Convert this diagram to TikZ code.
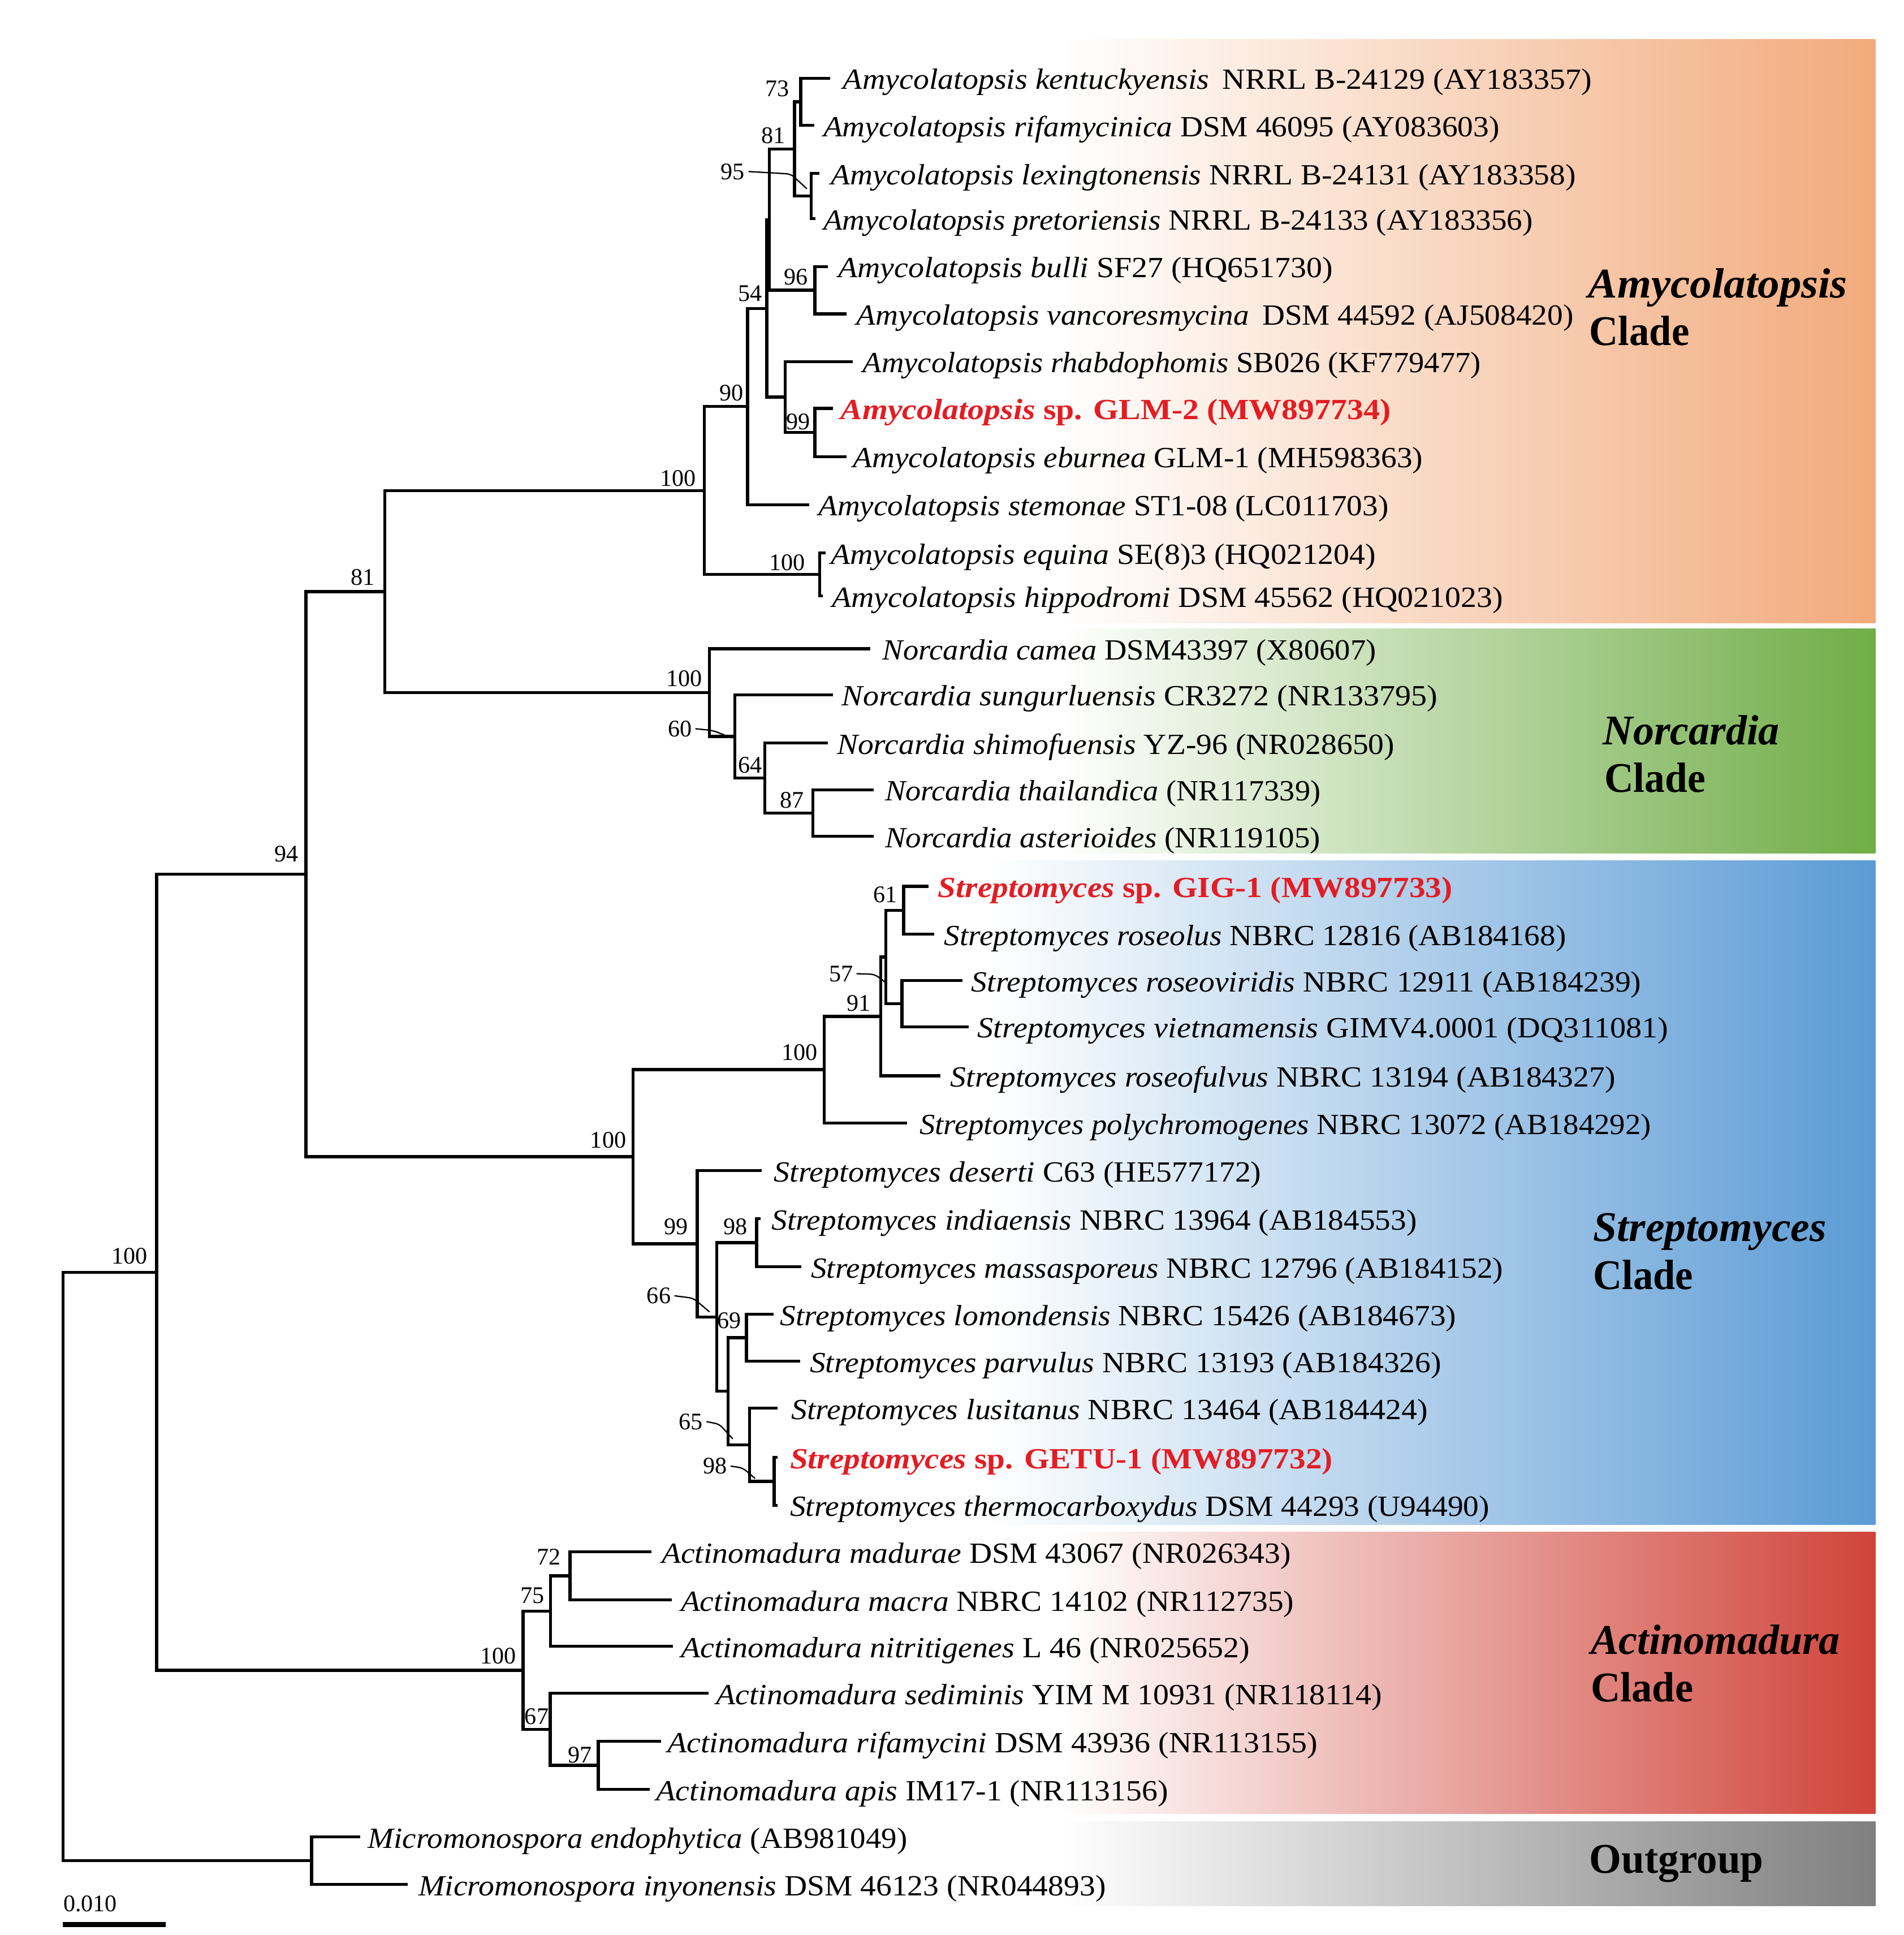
\documentclass[tikz,border=0pt]{standalone}
\usepackage{fontspec}
\setmainfont{Liberation Serif}
\usepackage{graphicx}
\newlength\pxu \setlength\pxu{0.02cm}
\newcommand\fitw[2]{\resizebox{#1\pxu}{\height}{#2}}
\definecolor{amyC}{HTML}{F2AA7C}
\definecolor{norC}{HTML}{70AD47}
\definecolor{strC}{HTML}{5B9BD5}
\definecolor{actC}{HTML}{D0443A}
\definecolor{outC}{HTML}{808080}
\definecolor{labred}{RGB}{228,28,35}
\tikzset{
  br/.style={line width=1.4pt, line join=miter},
  leaf/.style={anchor=base west, inner sep=0pt, font=\fontsize{13.5}{15}\selectfont},
  bs/.style={inner sep=0pt, font=\fontsize{11}{13}\selectfont},
  lead/.style={line width=0.6pt, rounded corners=2pt},
  cladel/.style={anchor=base west, inner sep=0pt, font=\fontsize{19.5}{22}\selectfont\bfseries},
}
\newcommand\Leaf[7]{%
  \coordinate (#1) at (#4,#3);
  \draw[br] (#2) |- (#1);
  \node[leaf] (#1t) at (#5,#3+9) {\fitw{#6}{#7}};}
\begin{document}
\begin{tikzpicture}[x=0.02cm,y=-0.02cm]
\useasboundingbox (0,0) rectangle (1543,1568);
% clade bands
\shade[left color=white, right color=amyC] (860,32) rectangle (1520,505);
\shade[left color=white, right color=norC] (860,509.6) rectangle (1520,691.5);
\shade[left color=white, right color=strC] (800,697.5) rectangle (1520,1235.5);
\shade[left color=white, right color=actC] (860,1241.5) rectangle (1520,1469.5);
\shade[left color=white, right color=outC] (860,1476) rectangle (1520,1544.5);
% internal nodes
\coordinate (root) at (51,1269.3);
\coordinate (R100) at (127,1030.9);
\coordinate (O) at (252.6,1507.7);
\coordinate (T94) at (248,708.4);
\coordinate (T81) at (312,479.4);
\coordinate (A100) at (571,397.5);
\coordinate (A90) at (606,329.4);
\coordinate (A54) at (621.5,249.9);
\coordinate (AR) at (623.5,178);
\coordinate (A81) at (644,120.7);
\coordinate (A73) at (649,82.5);
\coordinate (A95) at (657.5,158.9);
\coordinate (A96) at (660.4,235.2);
\coordinate (AY) at (636.5,321.75);
\coordinate (A99) at (660.4,350.5);
\coordinate (AE) at (664.5,465.5);
\coordinate (N100) at (575,561.2);
\coordinate (N60) at (595.5,596.7);
\coordinate (N64) at (620,630.4);
\coordinate (N87) at (659,658.8);
\coordinate (S100) at (513,937.3);
\coordinate (SI100) at (668,866.8);
\coordinate (S91) at (714,823.6);
\coordinate (S57) at (718,775.5);
\coordinate (S61) at (732.5,737.6);
\coordinate (SRV) at (731,813.3);
\coordinate (S99) at (565.2,1007.9);
\coordinate (S66) at (581,1067.2);
\coordinate (S98a) at (613.3,1007);
\coordinate (SZ) at (590,1127.4);
\coordinate (S69) at (605,1084);
\coordinate (S65) at (607.5,1170.7);
\coordinate (S98b) at (627.4,1200.4);
\coordinate (C100) at (424,1353.4);
\coordinate (C75) at (446.2,1305.5);
\coordinate (C72) at (462,1277);
\coordinate (C67) at (446,1401.3);
\coordinate (C97) at (485,1430.5);
% internal edges
\draw[br] (root) |- (R100);
\draw[br] (root) |- (O);
\draw[br] (R100) |- (T94);
\draw[br] (R100) |- (C100);
\draw[br] (T94) |- (T81);
\draw[br] (T94) |- (S100);
\draw[br] (T81) |- (A100);
\draw[br] (T81) |- (N100);
\draw[br] (A100) |- (A90);
\draw[br] (A100) |- (AE);
\draw[br] (A90) |- (A54);
\draw[br] (A54) |- (AR);
\draw[br] (A54) |- (AY);
\draw[br] (AR) |- (A81);
\draw[br] (AR) |- (A96);
\draw[br] (A81) |- (A73);
\draw[br] (A81) |- (A95);
\draw[br] (AY) |- (A99);
\draw[br] (N100) |- (N60);
\draw[br] (N60) |- (N64);
\draw[br] (N64) |- (N87);
\draw[br] (S100) |- (SI100);
\draw[br] (S100) |- (S99);
\draw[br] (SI100) |- (S91);
\draw[br] (S91) |- (S57);
\draw[br] (S57) |- (S61);
\draw[br] (S57) |- (SRV);
\draw[br] (S99) |- (S66);
\draw[br] (S66) |- (S98a);
\draw[br] (S66) |- (SZ);
\draw[br] (SZ) |- (S69);
\draw[br] (SZ) |- (S65);
\draw[br] (S65) |- (S98b);
\draw[br] (C100) |- (C75);
\draw[br] (C100) |- (C67);
\draw[br] (C75) |- (C72);
\draw[br] (C67) |- (C97);
% leaves
\Leaf{a1}{A73}{63.4}{673}{683}{607}{\textit{Amycolatopsis kentuckyensis}\, NRRL B-24129 (AY183357)}
\Leaf{a2}{A73}{101.6}{660}{667}{548}{\textit{Amycolatopsis rifamycinica} DSM 46095 (AY083603)}
\Leaf{a3}{A95}{140.6}{664}{673}{604}{\textit{Amycolatopsis lexingtonensis} NRRL B-24131 (AY183358)}
\Leaf{a4}{A95}{177.2}{661}{667}{575}{\textit{Amycolatopsis pretoriensis} NRRL B-24133 (AY183356)}
\Leaf{a5}{A96}{216}{671}{679}{401}{\textit{Amycolatopsis bulli} SF27 (HQ651730)}
\Leaf{a6}{A96}{254.4}{686}{694}{581}{\textit{Amycolatopsis vancoresmycina}\, DSM 44592 (AJ508420)}
\Leaf{a7}{AY}{293}{691}{699}{501}{\textit{Amycolatopsis rhabdophomis} SB026 (KF779477)}
\Leaf{a8}{A99}{331}{675}{681}{446}{\color{labred}\bfseries\textit{Amycolatopsis} sp. GLM-2 (MW897734)}
\Leaf{a9}{A99}{370}{686}{691}{462}{\textit{Amycolatopsis eburnea} GLM-1 (MH598363)}
\Leaf{a10}{A90}{409}{656}{663}{462}{\textit{Amycolatopsis stemonae} ST1-08 (LC011703)}
\Leaf{a11}{AE}{448}{669}{673}{442}{\textit{Amycolatopsis equina} SE(8)3 (HQ021204)}
\Leaf{a12}{AE}{483}{667}{674}{544}{\textit{Amycolatopsis hippodromi} DSM 45562 (HQ021023)}
\Leaf{n1}{N100}{525.7}{705.6}{715}{400}{\textit{Norcardia camea} DSM43397 (X80607)}
\Leaf{n2}{N60}{563}{675}{682}{483}{\textit{Norcardia sungurluensis} CR3272 (NR133795)}
\Leaf{n3}{N64}{602}{671}{678}{452}{\textit{Norcardia shimofuensis} YZ-96 (NR028650)}
\Leaf{n4}{N87}{640}{708}{717}{353}{\textit{Norcardia thailandica} (NR117339)}
\Leaf{n5}{N87}{677.6}{708}{717}{353}{\textit{Norcardia asterioides} (NR119105)}
\Leaf{s1}{S61}{718.2}{752.5}{760}{417}{\color{labred}\bfseries\textit{Streptomyces} sp. GIG-1 (MW897733)}
\Leaf{s2}{S61}{757}{757}{765}{504}{\textit{Streptomyces roseolus} NBRC 12816 (AB184168)}
\Leaf{s3}{SRV}{794.6}{780}{787}{543}{\textit{Streptomyces roseoviridis} NBRC 12911 (AB184239)}
\Leaf{s4}{SRV}{832}{785}{792}{560}{\textit{Streptomyces vietnamensis} GIMV4.0001 (DQ311081)}
\Leaf{s5}{S91}{871.7}{762}{770}{539}{\textit{Streptomyces roseofulvus} NBRC 13194 (AB184327)}
\Leaf{s6}{SI100}{910}{735}{745}{593}{\textit{Streptomyces polychromogenes} NBRC 13072 (AB184292)}
\Leaf{s7}{S99}{948.5}{617.5}{627}{395}{\textit{Streptomyces deserti} C63 (HE577172)}
\Leaf{s8}{S98a}{987.5}{616.5}{625}{523}{\textit{Streptomyces indiaensis} NBRC 13964 (AB184553)}
\Leaf{s9}{S98a}{1026.4}{649.6}{657}{561}{\textit{Streptomyces massasporeus} NBRC 12796 (AB184152)}
\Leaf{s10}{S69}{1065}{627}{632}{548}{\textit{Streptomyces lomondensis} NBRC 15426 (AB184673)}
\Leaf{s11}{S69}{1103}{648.6}{656}{512}{\textit{Streptomyces parvulus} NBRC 13193 (AB184326)}
\Leaf{s12}{S65}{1141}{630}{641}{516}{\textit{Streptomyces lusitanus} NBRC 13464 (AB184424)}
\Leaf{s13}{S98b}{1181}{630}{640}{440}{\color{labred}\bfseries\textit{Streptomyces} sp. GETU-1 (MW897732)}
\Leaf{s14}{S98b}{1219.8}{630}{640}{567}{\textit{Streptomyces thermocarboxydus} DSM 44293 (U94490)}
\Leaf{c1}{C72}{1257.5}{528}{536}{510}{\textit{Actinomadura madurae} DSM 43067 (NR026343)}
\Leaf{c2}{C72}{1296.5}{544.6}{551.5}{497}{\textit{Actinomadura macra} NBRC 14102 (NR112735)}
\Leaf{c3}{C75}{1334}{545.6}{551.5}{461}{\textit{Actinomadura nitritigenes} L 46 (NR025652)}
\Leaf{c4}{C67}{1372}{574.4}{580}{540}{\textit{Actinomadura sediminis} YIM M 10931 (NR118114)}
\Leaf{c5}{C97}{1411}{535.7}{540.5}{527}{\textit{Actinomadura rifamycini} DSM 43936 (NR113155)}
\Leaf{c6}{C97}{1450}{526.7}{531.7}{415}{\textit{Actinomadura apis} IM17-1 (NR113156)}
\Leaf{o1}{O}{1488.4}{292}{298}{437}{\textit{Micromonospora endophytica} (AB981049)}
\Leaf{o2}{O}{1527}{330.4}{339}{557}{\textit{Micromonospora inyonensis} DSM 46123 (NR044893)}
% bootstrap values
\node[bs] (b73) at (630,72) {73};
\node[bs] (b81a) at (627,110) {81};
\node[bs] (b95) at (594,139) {95};
\node[bs] (b96) at (645,224.6) {96};
\node[bs] (b54) at (608,237.6) {54};
\node[bs] (b90) at (592.8,318.6) {90};
\node[bs] (b99a) at (647,342) {99};
\node[bs] (b100a) at (549.6,387.4) {100};
\node[bs] (b100e) at (638,456) {100};
\node[bs] (b81t) at (294,468) {81};
\node[bs] (b100n) at (554.6,550) {100};
\node[bs] (b60) at (551,590.5) {60};
\node[bs] (b64) at (608,620) {64};
\node[bs] (b87) at (642,648.6) {87};
\node[bs] (b94) at (232,692) {94};
\node[bs] (b61) at (717.7,725) {61};
\node[bs] (b57) at (681.6,789) {57};
\node[bs] (b91) at (696,812.8) {91};
\node[bs] (b100si) at (648,852.6) {100};
\node[bs] (b100s) at (493,924) {100};
\node[bs] (b99s) at (547.8,994) {99};
\node[bs] (b98a) at (596,994) {98};
\node[bs] (b66) at (534,1050) {66};
\node[bs] (b69) at (591,1070) {69};
\node[bs] (b65) at (560,1152) {65};
\node[bs] (b98b) at (579.5,1188) {98};
\node[bs] (b100r) at (105,1018) {100};
\node[bs] (b72) at (445,1261.5) {72};
\node[bs] (b75) at (431.4,1293) {75};
\node[bs] (b100c) at (404,1341.7) {100};
\node[bs] (b67) at (435,1391) {67};
\node[bs] (b97) at (470,1422) {97};
% leader lines
\coordinate (l95a) at (641,141); \coordinate (l95) at (654,153);
\coordinate (l60a) at (578,592); \coordinate (l60) at (593,598);
\coordinate (l57a) at (709,789.5); \coordinate (l57) at (719,797);
\coordinate (l66a) at (562,1052); \coordinate (l66) at (575,1063);
\coordinate (l65a) at (583,1154); \coordinate (l65) at (594,1166);
\coordinate (l98a) at (602,1189.5); \coordinate (l98) at (612,1198);
\draw[lead] ([xshift=1.5pt]b95.east) -- (l95a) -- (l95);
\draw[lead] ([xshift=1.5pt]b60.east) -- (l60a) -- (l60);
\draw[lead] ([xshift=1.5pt]b57.east) -- (l57a) -- (l57);
\draw[lead] ([xshift=1.5pt]b66.east) -- (l66a) -- (l66);
\draw[lead] ([xshift=1.5pt]b65.east) -- (l65a) -- (l65);
\draw[lead] ([xshift=1.5pt]b98b.east) -- (l98a) -- (l98);
% clade labels
\node[cladel] (cl1) at (1287,241.4) {\fitw{210}{\textit{Amycolatopsis}}};
\node[cladel] (cl1b) at (1288,279.6) {\fitw{81}{Clade}};
\node[cladel] (cl2) at (1299,603.6) {\fitw{143}{\textit{Norcardia}}};
\node[cladel] (cl2b) at (1300,641.8) {\fitw{82}{Clade}};
\node[cladel] (cl3) at (1291,1006) {\fitw{189}{\textit{Streptomyces}}};
\node[cladel] (cl3b) at (1291,1045) {\fitw{81}{Clade}};
\node[cladel] (cl4) at (1289,1340.6) {\fitw{202}{\textit{Actinomadura}}};
\node[cladel] (cl4b) at (1289,1379) {\fitw{83}{Clade}};
\node[cladel] (cl5) at (1288,1518) {\fitw{141}{Outgroup}};
% scale bar
\coordinate (sb1) at (51,1559.5);
\coordinate (sb2) at (134.5,1559.5);
\draw[line width=2.2pt] (sb1) -- (sb2);
\node[bs, anchor=base west] (sbl) at (51,1549) {0.010};
\end{tikzpicture}
\end{document}
